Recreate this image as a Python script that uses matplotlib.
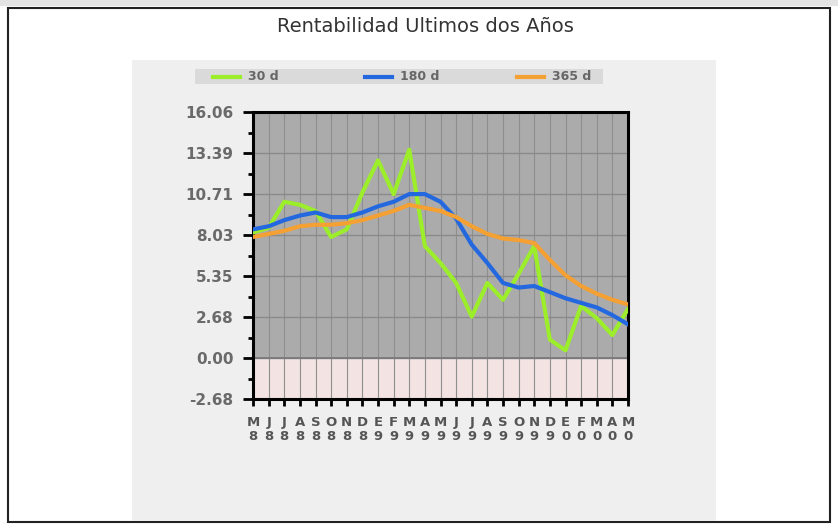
import matplotlib
matplotlib.use("Agg")
import matplotlib.pyplot as plt
from matplotlib.patches import Rectangle
from matplotlib.lines import Line2D

# meses mayo 1998 - mayo 2000
months = ["M", "J", "J", "A", "S", "O", "N", "D", "E", "F", "M", "A", "M",
          "J", "J", "A", "S", "O", "N", "D", "E", "F", "M", "A", "M"]
years = ["8"] * 8 + ["9"] * 12 + ["0"] * 5

r30 = [8.2, 8.5, 10.2, 10.0, 9.6, 7.9, 8.4, 10.8, 12.9, 10.7, 13.6, 7.3, 6.2,
       4.9, 2.7, 4.9, 3.8, 5.5, 7.3, 1.2, 0.5, 3.4, 2.6, 1.5, 3.2]
r180 = [8.4, 8.6, 9.0, 9.3, 9.5, 9.2, 9.2, 9.5, 9.9, 10.2, 10.7, 10.7, 10.2,
        9.1, 7.4, 6.2, 4.9, 4.6, 4.7, 4.3, 3.9, 3.6, 3.3, 2.8, 2.2]
r365 = [7.9, 8.1, 8.3, 8.6, 8.7, 8.7, 8.8, 9.0, 9.3, 9.6, 10.0, 9.8, 9.6,
        9.2, 8.6, 8.1, 7.8, 7.7, 7.5, 6.4, 5.4, 4.7, 4.2, 3.8, 3.5]

series_names = ["30 d", "180 d", "365 d"]
series_colors = ["#9cee2a", "#2468e0", "#f5a033"]

ytick_labels = ["-2.68", "0.00", "2.68", "5.35", "8.03", "10.71", "13.39", "16.06"]
ystep = 16.06 / 6

W, H = 838, 525
fig = plt.figure(figsize=(W / 100, H / 100), dpi=100)
fig.patch.set_facecolor("white")


def fx(px):
    return px / W


def fy(py):
    return 1 - py / H


# marco exterior y panel gris claro (detras de los ejes)
fig.add_artist(Rectangle((fx(0), fy(6)), 1, 6 / H, transform=fig.transFigure,
                         facecolor="#e4e4e4", edgecolor="none", zorder=-3))
fig.add_artist(Rectangle((fx(8), fy(522)), 822 / W, 514 / H, transform=fig.transFigure,
                         facecolor="white", edgecolor="#222222", lw=1.5, zorder=-3))
fig.add_artist(Rectangle((fx(132), fy(521)), 584 / W, 461 / H, transform=fig.transFigure,
                         facecolor="#efefef", edgecolor="none", zorder=-2))
fig.text(fx(425), fy(27), "Rentabilidad Ultimos dos Años", ha="center", va="center",
         fontsize=14, color="#333333")

# leyenda
fig.add_artist(Rectangle((fx(195), fy(84)), 408 / W, 15 / H, transform=fig.transFigure,
                         facecolor="#dadada", edgecolor="none", zorder=-1))
leg_x = [213, 365, 517]
for name, col, lx in zip(series_names, series_colors, leg_x):
    fig.add_artist(Line2D([fx(lx), fx(lx + 27)], [fy(76.5), fy(76.5)],
                          transform=fig.transFigure, color=col, lw=3))
    fig.text(fx(lx + 35), fy(76.5), name, ha="left", va="center", fontsize=9,
             fontweight="bold", color="#666666")

ax = fig.add_axes([fx(253), fy(399), (628 - 253) / W, (399 - 112) / H])
ax.set_zorder(2)
x = list(range(len(months)))
ymin, ymax = -ystep, 6 * ystep

ax.set_facecolor("#ababab")
ax.axhspan(ymin, 0, color="#f3e3e3", zorder=0)
for xi in x:
    ax.axvline(xi, color="#8e8e8e", lw=0.8, zorder=1)
for k in range(0, 7):
    ax.axhline(k * ystep, color="#8a8a8a", lw=1.0, zorder=1)
ax.axhline(0, color="#777777", lw=1.2, zorder=1)

for vals, col in zip([r30, r180, r365], series_colors):
    ax.plot(x, vals, color=col, lw=3.0, solid_joinstyle="round", zorder=3)

ax.set_xlim(0, len(months) - 1)
ax.set_ylim(ymin, ymax)
ax.set_yticks([k * ystep for k in range(-1, 7)])
ax.set_yticklabels(ytick_labels)
ax.set_yticks([(k + 0.5) * ystep for k in range(-1, 6)], minor=True)
ax.set_xticks(x)
ax.set_xticklabels([m + "\n" + y for m, y in zip(months, years)], linespacing=1.1)

ax.tick_params(axis="y", which="major", length=7, width=2, color="black",
               labelsize=11, labelcolor="#6a6a6a", pad=7)
ax.tick_params(axis="y", which="minor", length=3.5, width=2, color="black")
ax.tick_params(axis="x", length=5, width=2, color="black", labelsize=9.5,
               labelcolor="#555555", pad=7)
for lab in ax.get_yticklabels() + ax.get_xticklabels():
    lab.set_fontweight("bold")
for sp in ax.spines.values():
    sp.set_linewidth(2.2)
    sp.set_color("black")

fig.savefig("out.png", dpi=100)
